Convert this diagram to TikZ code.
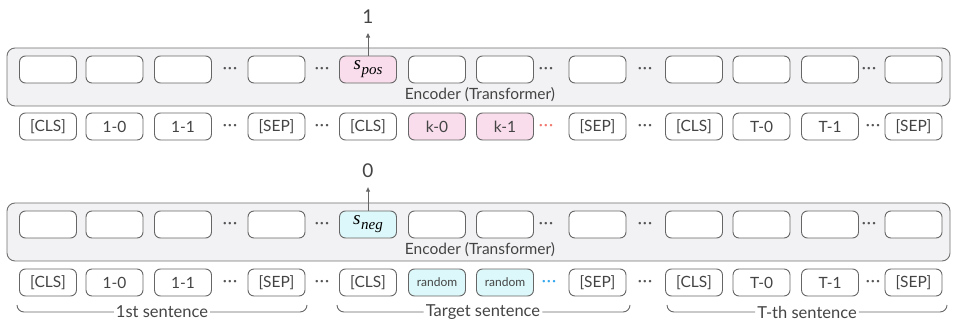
\documentclass[tikz,border=0pt]{standalone}
\usepackage{fontspec}
\setmainfont{Lato}
\newfontfamily\serifit{Liberation Serif}
\usetikzlibrary{arrows.meta}

\definecolor{edge}{HTML}{666666}
\definecolor{panelfill}{HTML}{F2F2F4}
\definecolor{paneledge}{HTML}{707070}
\definecolor{posfill}{HTML}{F9DDEC}
\definecolor{negfill}{HTML}{DDF8FA}
\definecolor{txt}{HTML}{444444}
\definecolor{dotgray}{HTML}{555555}
\definecolor{reddots}{HTML}{F07A70}
\definecolor{bluedots}{HTML}{35A8EE}

% score symbol: italic s with an italic subscript
\newcommand{\scoresym}[1]{{\serifit\itshape\fontsize{19}{19}\selectfont s\kern0.5pt\raisebox{-5pt}{\fontsize{15}{15}\selectfont #1}}}
% three spaced middle dots
\newcommand{\tripledot}{{\bfseries ·\kern1.6pt·\kern1.6pt·}}

\begin{document}
\begin{tikzpicture}[x=1pt,y=-1pt,
  panel/.style={draw=paneledge, fill=panelfill, line width=0.9pt, rounded corners=8pt},
  cell/.style={draw=edge, fill=white, line width=0.9pt, rounded corners=6pt,
    minimum width=57pt, minimum height=27pt, inner sep=0pt},
  tok/.style={cell, text=txt, font=\fontsize{15.5}{16}\selectfont},
  smalltok/.style={tok, font=\fontsize{12}{12}\selectfont},
  dots/.style={inner sep=0pt, font=\fontsize{13}{13}\selectfont},
  graydots/.style={dots, text=dotgray},
  enclabel/.style={inner sep=0pt, text=txt, font=\fontsize{15.5}{16}\selectfont},
  score/.style={inner sep=0pt, text=txt, font=\fontsize{19}{19}\selectfont},
  scorearrow/.style={draw=edge, line width=0.9pt, -{Triangle[length=4.5pt,width=4pt]}, shorten >=9pt},
  span/.style={draw=edge, line width=0.9pt, rounded corners=7pt},
  spanlabel/.style={inner sep=2pt, text=txt, font=\fontsize{16.5}{17}\selectfont},
]
\useasboundingbox (0,0) rectangle (955,320);

% ---------- positive example ----------
\draw[panel] (7,48) rectangle (950,106);
\node[enclabel] (penc) at (480,95) {Encoder (Transformer)};

\foreach \x/\f/\t [count=\i] in {48/white/{}, 114.5/white/{}, 183/white/{}, 276.5/white/{},
    368/posfill/{\scoresym{pos}}, 437/white/{}, 505/white/{}, 597.5/white/{},
    694/white/{}, 761.5/white/{}, 830/white/{}, 913.5/white/{}}
  \node[cell, fill=\f] (pe\i) at (\x,69.5) {\t};

\foreach \x/\f/\t [count=\i] in {48/white/{[CLS]}, 114.5/white/{1-0}, 183/white/{1-1}, 276.5/white/{[SEP]},
    368/white/{[CLS]}, 437/posfill/{k-0}, 505/posfill/{k-1}, 597.5/white/{[SEP]},
    694/white/{[CLS]}, 761.5/white/{T-0}, 830/white/{T-1}, 913.5/white/{[SEP]}}
  \node[tok, fill=\f] (pt\i) at (\x,126.5) {\t};

\foreach \x [count=\i] in {230,322,546,645,869}
  \node[graydots] (pd\i) at (\x,69.5) {\tripledot};
\foreach \x [count=\i] in {230,322,645}
  \node[graydots] (ptd\i) at (\x,126.5) {\tripledot};
\node[graydots] (ptd4) at (873,126.5) {\tripledot};
\node[dots, text=reddots] (ptd5) at (546,126.5) {\tripledot};

\node[score] (pscore) at (368,17) {1};
\draw[scorearrow] (pe5.north) -- (pscore.south);

% ---------- negative example ----------
\draw[panel] (7,203) rectangle (950,261);
\node[enclabel] (nenc) at (480,250) {Encoder (Transformer)};

\foreach \x/\f/\t [count=\i] in {48/white/{}, 114.5/white/{}, 183/white/{}, 276.5/white/{},
    368/negfill/{\scoresym{neg}}, 437/white/{}, 505/white/{}, 597.5/white/{},
    694/white/{}, 761.5/white/{}, 830/white/{}, 913.5/white/{}}
  \node[cell, fill=\f] (ne\i) at (\x,224.5) {\t};

\foreach \x/\f/\s/\t [count=\i] in {48/white/tok/{[CLS]}, 114.5/white/tok/{1-0}, 183/white/tok/{1-1},
    276.5/white/tok/{[SEP]}, 368/white/tok/{[CLS]}, 437/negfill/smalltok/{random},
    505/negfill/smalltok/{random}, 597.5/white/tok/{[SEP]},
    694/white/tok/{[CLS]}, 761.5/white/tok/{T-0}, 830/white/tok/{T-1}, 913.5/white/tok/{[SEP]}}
  \node[\s, fill=\f] (nt\i) at (\x,282.5) {\t};

\foreach \x [count=\i] in {230,322,546,645,869}
  \node[graydots] (nd\i) at (\x,224.5) {\tripledot};
\foreach \x [count=\i] in {230,322,645}
  \node[graydots] (ntd\i) at (\x,282.5) {\tripledot};
\node[graydots] (ntd4) at (873,282.5) {\tripledot};
\node[dots, text=bluedots] (ntd5) at (549,282.5) {\tripledot};

\node[score] (nscore) at (368,171) {0};
\draw[scorearrow] (ne5.north) -- (nscore.south);

% ---------- sentence spans ----------
\node[spanlabel] (s1) at (162,312) {1st sentence};
\node[spanlabel] (s2) at (483,312) {Target sentence};
\node[spanlabel] (s3) at (807,312) {T-th sentence};

\coordinate (s1l) at (17,305);  \coordinate (s1r) at (307,305);
\coordinate (s2l) at (337,305); \coordinate (s2r) at (630,305);
\coordinate (s3l) at (667,305); \coordinate (s3r) at (947,305);

\foreach \s in {s1,s2,s3} {
  \draw[span] (\s l) |- (\s.west);
  \draw[span] (\s.east) -| (\s r);
}
\end{tikzpicture}
\end{document}
